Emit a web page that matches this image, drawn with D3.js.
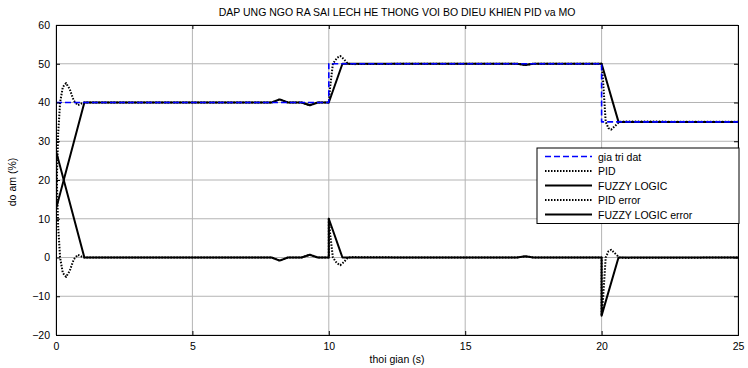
<!DOCTYPE html>
<html>
<head>
<meta charset="utf-8">
<script src="https://cdn.jsdelivr.net/npm/d3@7"></script>
<style>
  body { margin: 0; background: #fff; }
  svg { display: block; font-family: "Liberation Sans", Arial, Helvetica, sans-serif; }
</style>
</head>
<body>
<svg id="canvas" width="748" height="368"></svg>
<script>
// data (time in s, value in %)
const xTicks = [0, 5, 10, 15, 20, 25];
const yTicks = [-20, -10, 0, 10, 20, 30, 40, 50, 60];

const setT = [0, 10, 10, 20, 20, 25];
const setV = [40, 40, 50, 50, 35, 35];

const pidT = [0, 0.03, 0.08, 0.15, 0.25, 0.37, 0.5, 0.65, 0.8, 0.9, 1.0, 1.2, 4, 7.9, 8.2, 8.5, 9.0, 9.3, 9.6, 10, 10.05, 10.15, 10.3, 10.42, 10.55, 10.7, 10.9, 13, 16.9, 17.2, 17.5, 20, 20.05, 20.15, 20.25, 20.35, 20.5, 20.65, 20.9, 25];
const pidV = [12.5, 20, 32, 40, 44, 45, 43.5, 40.5, 39.3, 39.6, 40, 40, 40, 40, 40.8, 40, 40, 39.3, 40, 40, 44, 50, 51.5, 52, 51.2, 50, 49.9, 50, 50, 49.7, 50, 50, 46, 35, 33.4, 33, 34, 35, 35.1, 35];

const fuzT = [0, 1.04, 4, 7.9, 8.2, 8.5, 9.0, 9.3, 9.6, 10, 10.5, 13, 16.9, 17.2, 17.5, 20, 20.62, 25];
const fuzV = [12.5, 40, 40, 40, 40.8, 40, 40, 39.3, 40, 40, 50, 50, 50, 49.7, 50, 50, 35, 35];

const pidErrT = [0, 0.03, 0.08, 0.15, 0.25, 0.37, 0.5, 0.65, 0.8, 0.9, 1.0, 1.2, 4, 7.9, 8.2, 8.5, 9.0, 9.3, 9.6, 10, 10, 10.05, 10.15, 10.3, 10.42, 10.55, 10.7, 10.9, 13, 16.9, 17.2, 17.5, 20, 20, 20.05, 20.15, 20.25, 20.35, 20.5, 20.65, 20.9, 25];
const pidErrV = [27.5, 20, 8, 0, -4, -5, -3.5, -0.5, 0.7, 0.4, 0, 0, 0, 0, -0.8, 0, 0, 0.7, 0, 0, 10, 6, 0, -1.5, -2, -1.2, 0, 0.1, 0, 0, 0.3, 0, 0, -15, -11, 0, 1.6, 2, 1, 0, -0.1, 0];

const fuzErrT = [0, 1.04, 4, 7.9, 8.2, 8.5, 9.0, 9.3, 9.6, 10, 10, 10.5, 13, 16.9, 17.2, 17.5, 20, 20, 20.62, 25];
const fuzErrV = [27.5, 0, 0, 0, -0.8, 0, 0, 0.7, 0, 0, 10, 0, 0, 0, 0.3, 0, 0, -15, 0, 0];

const legendNames = ["gia tri dat", "PID", "FUZZY LOGIC", "PID error", "FUZZY LOGIC error"];

const series = [
  { t: setT, v: setV, color: "#0000ff", width: 1.6, dash: "6,3" },
  { t: pidT, v: pidV, color: "#000", width: 2, dash: "1.5,1.5" },
  { t: fuzT, v: fuzV, color: "#000", width: 2, dash: null },
  { t: pidErrT, v: pidErrV, color: "#000", width: 2, dash: "1.5,1.5" },
  { t: fuzErrT, v: fuzErrV, color: "#000", width: 2, dash: null },
];

const svg = d3.select("#canvas");
const plotL = 56, plotR = 738, plotT = 25, plotB = 335;

const x = d3.scaleLinear().domain([0, 25]).range([plotL, plotR]);
const y = d3.scaleLinear().domain([-20, 60]).range([plotB, plotT]);

// grid
svg.append("g")
  .selectAll("line")
  .data(xTicks)
  .enter()
  .append("line")
  .attr("x1", (d) => x(d))
  .attr("x2", (d) => x(d))
  .attr("y1", plotT)
  .attr("y2", plotB)
  .attr("stroke", "#b4b4b4")
  .attr("stroke-width", 1);

svg.append("g")
  .selectAll("line")
  .data(yTicks)
  .enter()
  .append("line")
  .attr("x1", plotL)
  .attr("x2", plotR)
  .attr("y1", (d) => y(d))
  .attr("y2", (d) => y(d))
  .attr("stroke", "#b4b4b4")
  .attr("stroke-width", 1);

// curves
svg.append("clipPath")
  .attr("id", "clip")
  .append("rect")
  .attr("x", plotL)
  .attr("y", plotT)
  .attr("width", plotR - plotL)
  .attr("height", plotB - plotT);

const line = d3.line()
  .x((d) => x(d[0]))
  .y((d) => y(d[1]));

const plot = svg.append("g").attr("clip-path", "url(#clip)");

// draw errors and fuzzy first, setpoint on top of the outputs
[4, 3, 2, 1, 0].forEach((i) => {
  const s = series[i];
  plot.append("path")
    .datum(s.t.map((t, k) => [t, s.v[k]]))
    .attr("d", line)
    .attr("fill", "none")
    .attr("stroke", s.color)
    .attr("stroke-width", s.width)
    .attr("stroke-dasharray", s.dash)
    .attr("stroke-linejoin", "round");
});

// axes (box with inward ticks)
const bottomAxis = d3.axisBottom(x).tickValues(xTicks).tickSize(-4).tickPadding(8);
const topAxis = d3.axisTop(x).tickValues(xTicks).tickSize(-4).tickFormat("");
const leftAxis = d3.axisLeft(y).tickValues(yTicks).tickSize(-4).tickPadding(6);
const rightAxis = d3.axisRight(y).tickValues(yTicks).tickSize(-4).tickFormat("");

svg.append("g").attr("transform", `translate(0,${plotB})`).call(bottomAxis);
svg.append("g").attr("transform", `translate(0,${plotT})`).call(topAxis);
svg.append("g").attr("transform", `translate(${plotL},0)`).call(leftAxis);
svg.append("g").attr("transform", `translate(${plotR},0)`).call(rightAxis);

svg.selectAll(".domain").attr("stroke", "#000").attr("stroke-width", 1);
svg.selectAll(".tick line").attr("stroke", "#000");
svg.selectAll(".tick text")
  .attr("font-size", 10.5)
  .attr("font-family", "Liberation Sans, Arial, sans-serif")
  .attr("fill", "#000");

// titles
svg.append("text")
  .attr("x", (plotL + plotR) / 2)
  .attr("y", 16)
  .attr("text-anchor", "middle")
  .attr("font-size", 10.5)
  .text("DAP UNG NGO RA SAI LECH HE THONG VOI BO DIEU KHIEN PID va MO");

svg.append("text")
  .attr("x", (plotL + plotR) / 2)
  .attr("y", 363)
  .attr("text-anchor", "middle")
  .attr("font-size", 10.5)
  .text("thoi gian (s)");

svg.append("text")
  .attr("transform", `translate(16,${(plotT + plotB) / 2 + 2}) rotate(-90)`)
  .attr("text-anchor", "middle")
  .attr("font-size", 10.5)
  .text("do am (%)");

// legend
const lgX = 537, lgY = 148, lgW = 202, rowH = 14.5;
const legend = svg.append("g");
legend.append("rect")
  .attr("x", lgX)
  .attr("y", lgY)
  .attr("width", lgW)
  .attr("height", rowH * legendNames.length + 3)
  .attr("fill", "#fff")
  .attr("stroke", "#000")
  .attr("stroke-width", 1);

legendNames.forEach((name, i) => {
  const s = series[i];
  const cy = lgY + 8.5 + i * rowH;
  legend.append("line")
    .attr("x1", lgX + 8)
    .attr("x2", lgX + 55)
    .attr("y1", cy)
    .attr("y2", cy)
    .attr("stroke", s.color)
    .attr("stroke-width", s.width)
    .attr("stroke-dasharray", s.dash);
  legend.append("text")
    .attr("x", lgX + 61)
    .attr("y", cy + 4)
    .attr("font-size", 10.5)
    .text(name);
});
</script>
</body>
</html>
